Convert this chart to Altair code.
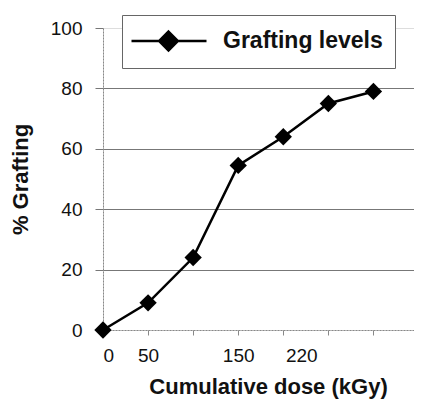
import altair as alt
import pandas as pd

dose = [0, 50, 100, 150, 200, 250, 300]
grafting = [0, 9, 24, 54.5, 64, 75, 79]
series_name = ["Grafting levels"] * 7
x_ticks = [0, 50, 100, 150, 200, 250, 300]
x_labels = [0, 50, 150, 220]
y_ticks = [0, 20, 40, 60, 80, 100]

df = pd.DataFrame({"dose": dose, "grafting": grafting, "series": series_name})

FONT = "Liberation Sans"
xscale = alt.Scale(domain=[0, 345], nice=False, zero=False)
yscale = alt.Scale(domain=[0, 100], nice=False)

y_axis = alt.Axis(
    values=y_ticks, title="% Grafting", titleFont=FONT, titleFontSize=22,
    titleFontWeight="bold", titleColor="#111", titlePadding=18,
    labelFont=FONT, labelFontSize=19, labelColor="#111", labelPadding=13,
    tickSize=8, tickColor="#777", domainColor="#888", domainDash=[2, 1],
    grid=True, gridColor="#777", gridWidth=1,
    gridOpacity={"condition": {"test": "datum.value === 100 || datum.value === 0", "value": 0}, "value": 1},
)

x_axis_ticks = alt.Axis(
    values=x_ticks, labels=False, title=None, orient="bottom", tickSize=5,
    tickColor="#888", domainColor="#888", domainDash=[2, 1], grid=False,
)
x_axis_labels = alt.Axis(
    values=x_labels, orient="bottom", ticks=False, domain=False, grid=False,
    labelFont=FONT, labelFontSize=19, labelColor="#111", labelPadding=16,
    title="Cumulative dose (kGy)", titleFont=FONT, titleFontSize=22,
    titleFontWeight="bold", titleColor="#111", titlePadding=11,
    titleX=165, titleAnchor="start", titleAlign="center",
)

color_scale = alt.Scale(domain=["Grafting levels"], range=["#000000"])

line = alt.Chart(df).mark_line(color="black", strokeWidth=2.5).encode(
    x=alt.X("dose:Q", scale=xscale, axis=x_axis_ticks),
    y=alt.Y("grafting:Q", scale=yscale, axis=y_axis),
)

points = alt.Chart(df).mark_point(filled=True, shape="diamond", size=300, opacity=1).encode(
    x=alt.X("dose:Q", scale=xscale, axis=x_axis_labels),
    y=alt.Y("grafting:Q", scale=yscale, axis=y_axis),
    color=alt.Color(
        "series:N", scale=color_scale,
        legend=alt.Legend(
            orient="none", legendX=19, legendY=-13, title=None,
            symbolType="M-1.32,0H4.68M1.64,-0.75L2.39,0L1.64,0.75L0.89,0Z",
            symbolSize=625, symbolStrokeWidth=2.5, symbolStrokeColor="black",
            symbolFillColor="black", symbolOpacity=1,
            labelFont=FONT, labelFontSize=23, labelFontWeight="bold", labelColor="#111",
            labelOffset=61, strokeColor="#666", fillColor="white", padding=12,
        ),
    ),
)

chart = alt.layer(line, points).resolve_axis(x="independent").properties(
    width=311, height=302,
    autosize=alt.AutoSizeParams(type="none"),
    padding={"left": 95, "top": 20, "right": 0, "bottom": 70},
).configure_view(stroke=None).configure(background="white")

chart.save("out.html", embed_options={"renderer": "svg", "actions": False})
